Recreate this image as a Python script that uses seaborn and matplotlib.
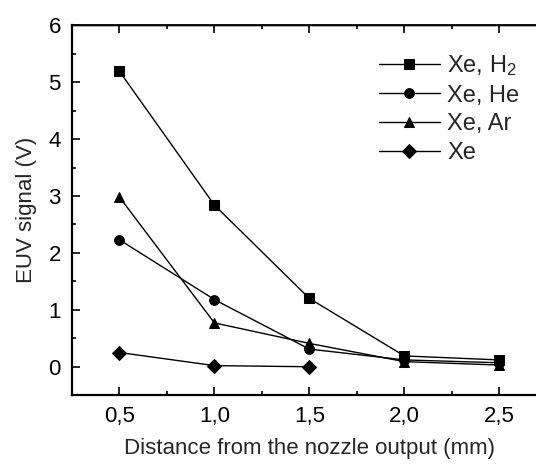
import pandas as pd
import matplotlib
matplotlib.use("Agg")
import matplotlib.pyplot as plt
import seaborn as sns
from matplotlib.ticker import MultipleLocator

distance = [0.5, 1.0, 1.5, 2.0, 2.5]
xe_h2 = [5.19, 2.84, 1.20, 0.19, 0.12]
xe_he = [2.23, 1.18, 0.31, 0.12, 0.07]
xe_ar = [2.98, 0.77, 0.41, 0.09, 0.03]
xe_only = [0.25, 0.02, 0.00]

labels = ["Xe, H$_2$", "Xe, He", "Xe, Ar", "Xe"]
series = [xe_h2, xe_he, xe_ar, xe_only]

rows = []
for lab, vals in zip(labels, series):
    for x, v in zip(distance, vals):
        rows.append({"Distance": x, "Signal": v, "Gas": lab})
df = pd.DataFrame(rows)

sns.set_style("ticks")
plt.rcParams["font.family"] = ["Liberation Sans", "DejaVu Sans"]
plt.rcParams["mathtext.default"] = "regular"

fig = plt.figure(figsize=(5.36, 4.66), dpi=100)
ax = fig.add_axes([0.1343, 0.1519, 0.8858, 0.7940])

sns.lineplot(
    data=df,
    x="Distance",
    y="Signal",
    style="Gas",
    style_order=labels,
    markers={"Xe, H$_2$": "s", "Xe, He": "o", "Xe, Ar": "^", "Xe": "D"},
    dashes=False,
    color="black",
    linewidth=1,
    markersize=7,
    markeredgecolor="black",
    ax=ax,
)

ax.set_xlim(0.25, 2.75)
ax.set_ylim(-0.5, 6)
ax.yaxis.set_major_locator(MultipleLocator(1))
ax.yaxis.set_minor_locator(MultipleLocator(0.5))
ax.set_xticks(distance)
ax.xaxis.set_minor_locator(MultipleLocator(0.25))
ax.set_xticklabels([f"{d:.1f}".replace(".", ",") for d in distance])
ax.tick_params(which="both", direction="in", top=True, right=True,
               labelsize=16, width=1.2, color="black", labelcolor="black")
ax.tick_params(which="major", length=6, pad=8)
ax.tick_params(which="minor", length=3)
for s in ax.spines.values():
    s.set_visible(True)
    s.set_linewidth(1.6)
    s.set_color("black")
    s.set_zorder(5)
ax.spines["top"].set_snap(False)

ax.set_xlabel("Distance from the nozzle output (mm)", fontsize=16, labelpad=8)
ax.set_ylabel("EUV signal (V)", fontsize=16, labelpad=8)

handles, labs = ax.get_legend_handles_labels()
ax.legend(handles, labs, loc="upper left", bbox_to_anchor=(0.626, 0.95),
          frameon=False, fontsize=17, handlelength=2.6, handletextpad=0.3,
          labelspacing=0.28, borderaxespad=0)

fig.savefig("out.png", dpi=100)
